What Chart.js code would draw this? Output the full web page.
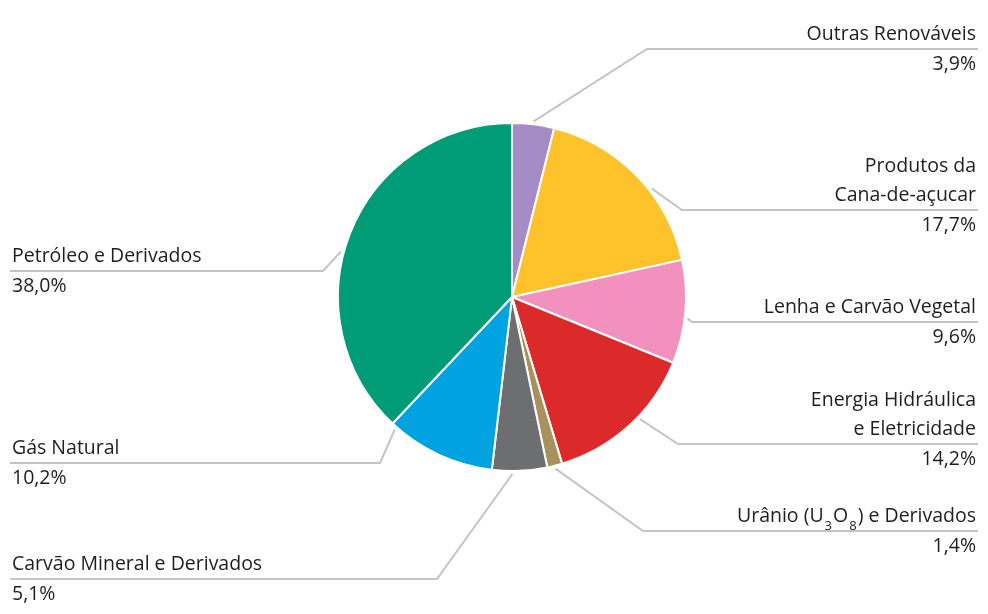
<!DOCTYPE html>
<html lang="pt-BR">
<head>
<meta charset="utf-8">
<script src="https://cdn.jsdelivr.net/npm/chart.js@4.4.0/dist/chart.umd.min.js"></script>
<style>
  html, body { margin: 0; padding: 0; background: #fff; }
  #wrap { width: 988px; height: 614px; position: relative; }
</style>
</head>
<body>
<div id="wrap"><canvas id="chart"></canvas></div>
<script>
const categories = [
  "Outras Renováveis",
  "Produtos da Cana-de-açucar",
  "Lenha e Carvão Vegetal",
  "Energia Hidráulica e Eletricidade",
  "Urânio (U₃O₈) e Derivados",
  "Carvão Mineral e Derivados",
  "Gás Natural",
  "Petróleo e Derivados",
];
const shares = [3.9, 17.7, 9.6, 14.2, 1.4, 5.1, 10.2, 38.0];
const shareLabels = shares.map((v) => v.toFixed(1).replace(".", ",") + "%");
const colors = ["#a68cc5", "#fec32b", "#f291bd", "#dc2a2a", "#a8915a", "#6d6e70", "#00a3e0", "#009b77"];

// callouts: how each name is broken, which side it sits on, the elbow of the
// leader line and where along its slice the line starts (0..1)
const callouts = [
  { lines: ["Outras Renováveis"], side: "right", elbow: [647, 49], at: 0.5 },
  { lines: ["Produtos da", "Cana-de-açucar"], side: "right", elbow: [682, 210], at: 0.6 },
  { lines: ["Lenha e Carvão Vegetal"], side: "right", elbow: [692, 322], at: 0.56 },
  { lines: ["Energia Hidráulica", "e Eletricidade"], side: "right", elbow: [678, 444], at: 0.42 },
  { lines: ["Urânio (U₃O₈) e Derivados"], side: "right", elbow: [643, 531], at: 0.5 },
  { lines: ["Carvão Mineral e Derivados"], side: "left", elbow: [437, 579], at: 0.63 },
  { lines: ["Gás Natural"], side: "left", elbow: [380, 463], at: 0.95 },
  { lines: ["Petróleo e Derivados"], side: "left", elbow: [323, 271], at: 0.45 },
];

const FONT = "'Open Sans', 'Noto Sans', sans-serif";
const MAIN = "400 19.5px " + FONT;
const SMALL = "400 13px " + FONT;
const SUBS = "₀₁₂₃₄₅₆₇₈₉";

// text with subscript digits (U₃O₈)
function richWidth(ctx, str) {
  let w = 0;
  for (const ch of str) {
    const i = SUBS.indexOf(ch);
    if (i >= 0) { ctx.font = SMALL; w += ctx.measureText(String(i)).width + 2; }
    else { ctx.font = MAIN; w += ctx.measureText(ch).width; }
  }
  return w;
}
function richText(ctx, str, x, y, align) {
  let cx = align === "right" ? x - richWidth(ctx, str) : x;
  ctx.textAlign = "left";
  for (const ch of str) {
    const i = SUBS.indexOf(ch);
    if (i >= 0) {
      ctx.font = SMALL;
      cx += 1;
      ctx.fillText(String(i), cx, y + 8);
      cx += ctx.measureText(String(i)).width + 1;
    } else {
      ctx.font = MAIN;
      ctx.fillText(ch, cx, y);
      cx += ctx.measureText(ch).width;
    }
  }
}

const calloutPlugin = {
  id: "callouts",
  afterDraw(chart) {
    const ctx = chart.ctx;
    const arcs = chart.getDatasetMeta(0).data;
    ctx.save();
    arcs.forEach((arc, i) => {
      const c = callouts[i];
      const p = arc.getProps(["x", "y", "startAngle", "endAngle", "outerRadius"], true);
      const a = p.startAngle + (p.endAngle - p.startAngle) * c.at;
      const r = p.outerRadius + 3;
      const x0 = p.x + Math.cos(a) * r;
      const y0 = p.y + Math.sin(a) * r;
      const [ex, ey] = c.elbow;
      const endX = c.side === "right" ? 978 : 10;

      ctx.strokeStyle = "#c4c4c4";
      ctx.lineWidth = 2;
      ctx.beginPath();
      ctx.moveTo(x0, y0);
      ctx.lineTo(ex, ey);
      ctx.lineTo(endX, ey);
      ctx.stroke();

      ctx.fillStyle = "#1e1e1e";
      ctx.textBaseline = "alphabetic";
      const tx = c.side === "right" ? 976 : 12;
      const n = c.lines.length;
      c.lines.forEach((line, k) => {
        richText(ctx, line, tx, ey - 9 - (n - 1 - k) * 29, c.side);
      });
      ctx.font = MAIN;
      ctx.textAlign = c.side;
      ctx.fillText(shareLabels[i], tx, ey + 21);
    });
    ctx.restore();
  },
};

new Chart(document.getElementById("chart").getContext("2d"), {
  type: "pie",
  data: {
    labels: categories,
    datasets: [{
      data: shares,
      backgroundColor: colors,
      borderColor: "#ffffff",
      borderWidth: 2,
    }],
  },
  options: {
    responsive: true,
    maintainAspectRatio: false,
    animation: false,
    layout: { padding: { left: 337, right: 301, top: 122, bottom: 142 } },
    plugins: {
      legend: { display: false },
      tooltip: { enabled: false },
    },
  },
  plugins: [calloutPlugin],
});
</script>
</body>
</html>
